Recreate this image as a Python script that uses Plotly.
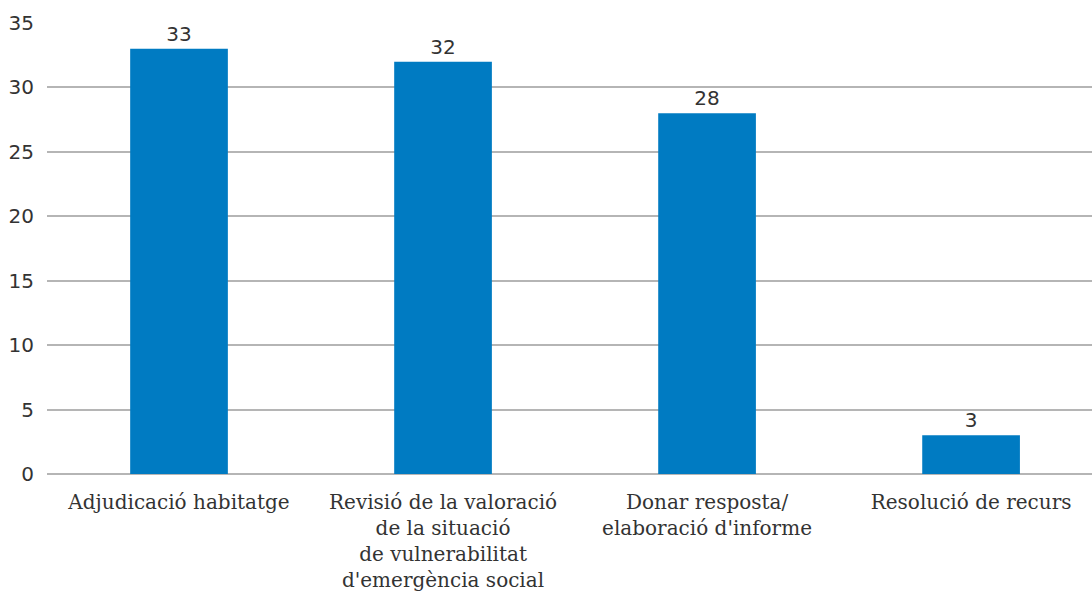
import plotly.graph_objects as go

categories = [
    "Adjudicació habitatge",
    "Revisió de la valoració<br>de la situació<br>de vulnerabilitat<br>d'emergència social",
    "Donar resposta/<br>elaboració d'informe",
    "Resolució de recurs",
]
values = [33, 32, 28, 3]
y_ticks = [0, 5, 10, 15, 20, 25, 30, 35]

fig = go.Figure(
    go.Bar(
        x=categories,
        y=values,
        width=0.37,
        marker=dict(color="#007BC2", line=dict(width=0)),
        text=[str(v) for v in values],
        textposition="outside",
        cliponaxis=False,
        textfont=dict(family="DejaVu Sans", size=20, color="#333333"),
    )
)

fig.update_layout(
    width=1092,
    height=594,
    margin=dict(l=47, r=0, t=23, b=120),
    paper_bgcolor="white",
    plot_bgcolor="white",
    showlegend=False,
)

fig.update_xaxes(
    type="category",
    range=[-0.5, 3.458],
    showgrid=False,
    showline=False,
    zeroline=False,
    ticks="",
    ticklabelstandoff=14,
    tickfont=dict(family="DejaVu Serif", size=20, color="#333333"),
)

fig.update_yaxes(
    range=[0, 35],
    tickvals=y_ticks,
    showgrid=True,
    gridcolor="#B5B5B5",
    gridwidth=1.5,
    zeroline=True,
    zerolinecolor="#B5B5B5",
    zerolinewidth=1.5,
    showline=False,
    ticks="",
    ticklabelstandoff=12,
    tickfont=dict(family="DejaVu Sans", size=20, color="#333333"),
)

fig.write_html("out.html")
